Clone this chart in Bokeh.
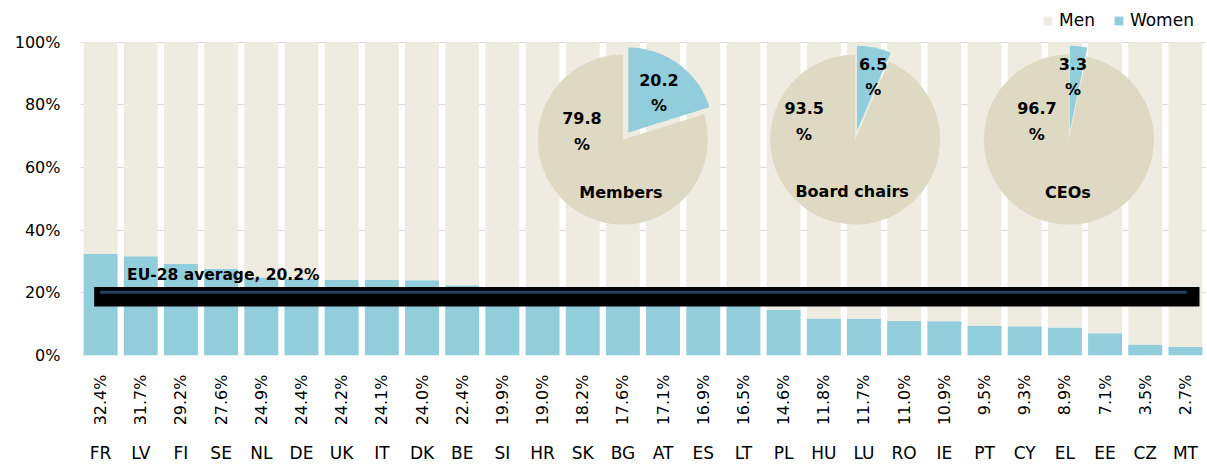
import math
from bokeh.plotting import figure
from bokeh.models import (Range1d, FixedTicker, LinearAxis, Legend, LegendItem,
                          ColumnDataSource)
from bokeh.core.properties import value
from bokeh.embed import file_html
from bokeh.resources import INLINE

# ---------------- data ----------------
countries = ["FR", "LV", "FI", "SE", "NL", "DE", "UK", "IT", "DK", "BE", "SI", "HR", "SK", "BG",
             "AT", "ES", "LT", "PL", "HU", "LU", "RO", "IE", "PT", "CY", "EL", "EE", "CZ", "MT"]
women = [32.4, 31.7, 29.2, 27.6, 24.9, 24.4, 24.2, 24.1, 24.0, 22.4, 19.9, 19.0, 18.2, 17.6,
         17.1, 16.9, 16.5, 14.6, 11.8, 11.7, 11.0, 10.9, 9.5, 9.3, 8.9, 7.1, 3.5, 2.7]
men = [67.6, 68.3, 70.8, 72.4, 75.1, 75.6, 75.8, 75.9, 76.0, 77.6, 80.1, 81.0, 81.8, 82.4,
       82.9, 83.1, 83.5, 85.4, 88.2, 88.3, 89.0, 89.1, 90.5, 90.7, 91.1, 92.9, 96.5, 97.3]
pie_groups = ["Members", "Board chairs", "CEOs"]
pie_women = [20.2, 6.5, 3.3]
pie_men = [79.8, 93.5, 96.7]
eu_avg = 20.2
eu_label = "EU-28 average, 20.2%"
y_ticks = [0, 20, 40, 60, 80, 100]

# ---------------- style ----------------
FONT = "DejaVu Sans"
C_WOMEN = "#92CDDC"
C_MEN = "#EEECE1"
C_MEN_PIE = "#DDD9C3"
TXT = "#000000"
PX_X = 40.17   # pixels per category
PX_Y = 3.15    # pixels per percent

x = list(range(len(countries)))
src = ColumnDataSource(dict(x=x, women=women, men=men))

p = figure(width=1207, height=465, x_range=Range1d(-0.5, 27.5), y_range=Range1d(0, 113.3),
           output_backend="svg", toolbar_location=None,
           min_border_left=80, min_border_right=2, min_border_top=0, min_border_bottom=108)
p.outline_line_color = None
p.background_fill_color = "white"
p.xgrid.visible = False
p.ygrid.ticker = FixedTicker(ticks=y_ticks)
p.ygrid.grid_line_color = "#D9D9D9"
p.ygrid.grid_line_width = 1

# y axis
ya = p.yaxis[0]
ya.ticker = FixedTicker(ticks=y_ticks)
ya.major_label_overrides = {t: f"{t}%" for t in y_ticks}
ya.axis_line_color = None
ya.major_tick_line_color = None
ya.minor_tick_line_color = None
ya.major_tick_out = 0
ya.major_label_standoff = 20
ya.major_label_text_font = FONT
ya.major_label_text_font_size = "16px"
ya.major_label_text_color = TXT

# x axis 1: percentages (rotated)
xa = p.xaxis[0]
xa.ticker = FixedTicker(ticks=x)
xa.major_label_overrides = {i: f"{w:.1f}%" for i, w in zip(x, women)}
xa.major_label_orientation = math.pi / 2
xa.axis_line_color = None
xa.major_tick_line_color = None
xa.minor_tick_line_color = None
xa.major_tick_out = 0
xa.major_tick_in = 0
xa.major_label_standoff = 19
xa.major_label_text_font = FONT
xa.major_label_text_font_size = "16px"
xa.major_label_text_color = TXT

# x axis 2: country codes
xa2 = LinearAxis(ticker=FixedTicker(ticks=x),
                 major_label_overrides={i: c for i, c in zip(x, countries)})
xa2.axis_line_color = None
xa2.major_tick_line_color = None
xa2.minor_tick_line_color = None
xa2.major_tick_out = 0
xa2.major_tick_in = 0
xa2.major_label_standoff = 14
xa2.major_label_text_font = FONT
xa2.major_label_text_font_size = "17px"
xa2.major_label_text_color = TXT
p.add_layout(xa2, "below")

# bars
rw = p.vbar(x="x", bottom=0, top="women", width=0.845, source=src,
            fill_color=C_WOMEN, line_color=None)
src.data["mtop"] = [w + m for w, m in zip(women, men)]
rm = p.vbar(x="x", bottom="women", top="mtop", width=0.845, source=src,
            fill_color=C_MEN, line_color=None)

# average band
p.quad(left=-0.16, right=27.35, bottom=eu_avg - 4.6, top=eu_avg + 1.7,
       fill_color="black", line_color=None)
p.segment(x0=-0.01, y0=eu_avg, x1=27.03, y1=eu_avg, line_color="#243F60", line_width=3)
p.text(x=[0.66], y=[eu_avg + 5.6], text=[eu_label], text_font=value(FONT),
       text_font_style="bold", text_font_size="15.5px", text_baseline="middle",
       text_align="left", text_color=TXT)

# pies
pie_cx = [13.0, 18.78, 24.1]
pie_cy = 68.9
R = 85
explode = 9
# label offsets in px (dx, dy down positive)
off_women = [(36, -60), (18, -76), (4, -76)]
off_men = [(-41, -22), (-51, -32), (-32, -32)]
off_name = [(-2, 53), (-3, 52), (-1, 53)]

for i, name in enumerate(pie_groups):
    cx = pie_cx[i]
    fw = pie_women[i] / 100.0
    a0 = math.pi / 2 - fw * 2 * math.pi
    a1 = math.pi / 2
    p.wedge(x=[cx], y=[pie_cy], radius=R, radius_units="screen",
            start_angle=a1, end_angle=a0 + 2 * math.pi,
            fill_color=C_MEN_PIE, line_color=None)
    th = (a0 + a1) / 2
    ex = explode * math.cos(th) / PX_X
    ey = explode * math.sin(th) / PX_Y
    p.wedge(x=[cx + ex], y=[pie_cy + ey], radius=R, radius_units="screen",
            start_angle=a0, end_angle=a1,
            fill_color=C_WOMEN, line_color=None)

    def lab(dx, dy, txt, size="16px"):
        p.text(x=[cx + dx / PX_X], y=[pie_cy - dy / PX_Y], text=[txt],
               text_font=value(FONT), text_font_style="bold", text_font_size=size,
               text_align="center", text_baseline="middle", text_color=TXT)

    dx, dy = off_women[i]
    lab(dx, dy, f"{pie_women[i]:.1f}")
    lab(dx, dy + 26, "%")
    dx, dy = off_men[i]
    lab(dx, dy, f"{pie_men[i]:.1f}")
    lab(dx, dy + 27, "%")
    dx, dy = off_name[i]
    lab(dx, dy, name, "16px")

# legend
legend = Legend(items=[LegendItem(label="Men", renderers=[rm]),
                       LegendItem(label="Women", renderers=[rw])],
                location=(962, 325), orientation="horizontal")
legend.background_fill_alpha = 0
legend.border_line_color = None
legend.label_text_font = FONT
legend.label_text_font_size = "17px"
legend.label_text_color = TXT
legend.glyph_width = 11
legend.glyph_height = 11
legend.label_standoff = 6
legend.spacing = 18
legend.padding = 0
legend.margin = 0
legend.label_height = 14
p.add_layout(legend)

open("out.html", "w").write(file_html(p, INLINE))
